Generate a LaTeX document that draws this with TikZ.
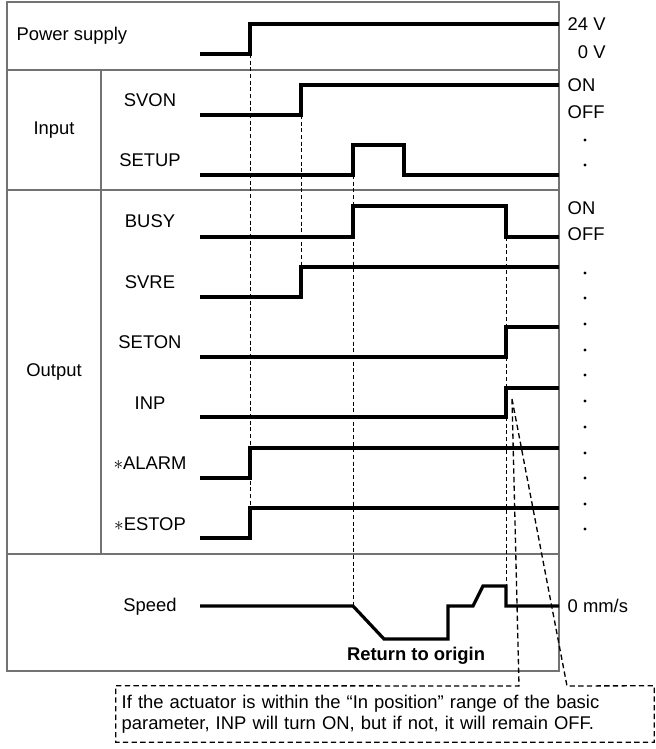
\documentclass[tikz,border=0pt]{standalone}
\usepackage{fontspec}
\setmainfont{Liberation Sans}
\begin{document}
\begin{tikzpicture}[x=0.75pt,y=-0.75pt,
  font=\fontsize{13.8}{16}\selectfont,
  sig/.style={line width=2.4pt,line join=miter},
  frm/.style={draw=black!55,line width=1.1pt},
  guide/.style={line width=0.75pt,dash pattern=on 3pt off 2pt},
  callout/.style={line width=1pt,dash pattern=on 4pt off 2.5pt}]
  \useasboundingbox (0,0) rectangle (656,749);
  % frame
  \draw[frm] (7,2) rectangle (559,671);
  \draw[frm] (7,70) -- (559,70);
  \draw[frm] (7,190) -- (559,190);
  \draw[frm] (7,554) -- (559,554);
  \draw[frm] (101,70) -- (101,554);
  % group labels
  \node[anchor=west] (pwr) at (12,36) {Power supply};
  \node (inp) at (54,130) {Input};
  \node (outp) at (54,372) {Output};
  % signal names
  \node (svon) at (150,100) {SVON};
  \node (setup) at (150,160) {SETUP};
  \node (busy) at (150,221) {BUSY};
  \node (svre) at (150,282) {SVRE};
  \node (seton) at (150,342) {SETON};
  \node (inpsig) at (150,403) {INP};
  \node (alarm) at (150,463) {$\ast$ALARM};
  \node (estop) at (150,524) {$\ast$ESTOP};
  \node (speed) at (150,607) {Speed};
  % guides
  \draw[guide] (250,54) -- (250,508);
  \draw[guide] (301,115) -- (301,267);
  \draw[guide] (353,175) -- (353,606);
  \draw[guide] (506,237) -- (506,586);
  % waveforms
  \draw[sig] (200,54) -- (250,54) -- (250,24) -- (559,24);
  \draw[sig] (200,115) -- (301,115) -- (301,85) -- (559,85);
  \draw[sig] (200,175) -- (353,175) -- (353,145) -- (404,145) -- (404,175) -- (559,175);
  \draw[sig] (200,237) -- (353,237) -- (353,206) -- (506,206) -- (506,237) -- (559,237);
  \draw[sig] (200,297) -- (301,297) -- (301,267) -- (559,267);
  \draw[sig] (200,357) -- (506,357) -- (506,327) -- (559,327);
  \draw[sig] (200,417) -- (506,417) -- (506,388) -- (559,388);
  \draw[sig] (200,478) -- (250,478) -- (250,448) -- (559,448);
  \draw[sig] (200,538) -- (250,538) -- (250,508) -- (559,508);
  \draw[sig] (200,606) -- (353,606) -- (384,639) -- (448,639) -- (448,606)
    -- (473,606) -- (483,586) -- (506,586) -- (506,606) -- (559,606);
  \node (ret) at (416,656) {\bfseries Return to origin};
  % levels
  \node[anchor=west] (v24) at (563,24) {24 V};
  \node[anchor=east] (v0) at (v24.east |- 0,52) {0 V};
  \node[anchor=west] (on1) at (563,85) {ON};
  \node[anchor=west] (off1) at (563,112) {OFF};
  \node[anchor=west] (on2) at (563,208) {ON};
  \node[anchor=west] (off2) at (563,234) {OFF};
  \node[anchor=west] (mms) at (563,606) {0 mm/s};
  \foreach \y in {140,165,273,298,324,350,375,401,427,453,478,504,529}
    \fill (585,\y) circle (1.2pt);
  % note
  \node[minimum width=403.5pt,minimum height=42pt,inner sep=0pt,
    font=\fontsize{13.8}{15.75}\selectfont,text width=395pt,align=left]
    (note) at (385,714) {\makebox[395pt][s]{If the actuator is within the “In position” range of the basic}\\
    parameter, INP will turn ON, but if not, it will remain OFF.};
  \coordinate (tip) at (512,399);
  \draw[callout] (tip) -- (519,686) -- (note.north west) -- (note.south west)
    -- (note.south east) -- (note.north east) -- (567,686) -- cycle;
\end{tikzpicture}
\end{document}
